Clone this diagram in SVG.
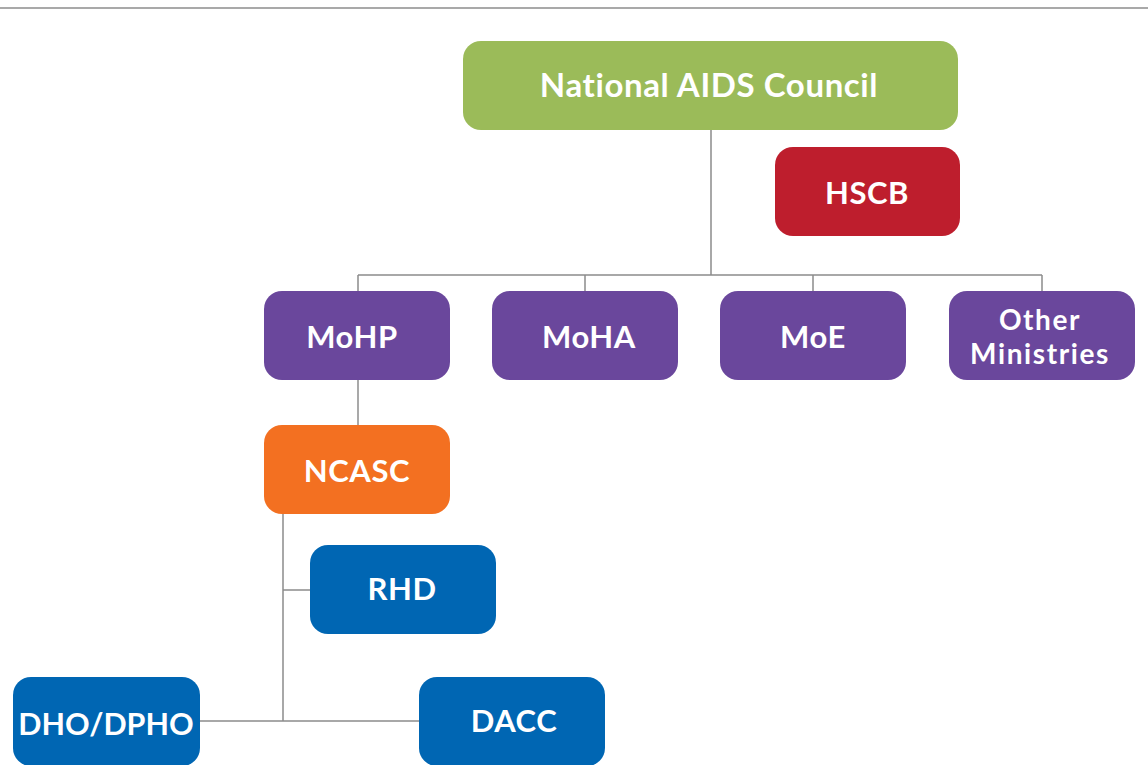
<svg xmlns="http://www.w3.org/2000/svg" width="1148" height="765" viewBox="0 0 1148 765">
<style>
.box{stroke:none}
.t{font-family:Lato,"Open Sans","Liberation Sans",sans-serif;font-weight:700;fill:#fff;text-anchor:middle;dominant-baseline:central;letter-spacing:0.6px}
.c{stroke:#8c8c8c;stroke-width:1.5;fill:none}
</style>
<rect x="0" y="0" width="1148" height="765" fill="#fff"/>
<line x1="0" y1="8" x2="1148" y2="8" stroke="#8c8c8c" stroke-width="1.5"/>
<g id="connectors">
<path class="c" d="M711 130V275M358 275H1042M358 275V291M585 275V291M813 275V291M1042 275V291"/>
<path class="c" d="M358 380V425"/>
<path class="c" d="M283 514V721M283 590H310M200 721H419"/>
</g>
<g id="nac"><rect class="box" x="463" y="41" width="495" height="89" rx="18" fill="#9bbb59"/><text class="t" x="709" y="84" font-size="33">National AIDS Council</text></g>
<g id="hscb"><rect class="box" x="775" y="147" width="185" height="89" rx="18" fill="#be1e2d"/><text class="t" x="867" y="192" font-size="31">HSCB</text></g>
<g id="mohp"><rect class="box" x="264" y="291" width="186" height="89" rx="18" fill="#6a479c"/><text class="t" x="352" y="336" font-size="31">MoHP</text></g>
<g id="moha"><rect class="box" x="492" y="291" width="186" height="89" rx="18" fill="#6a479c"/><text class="t" x="589" y="336" font-size="31">MoHA</text></g>
<g id="moe"><rect class="box" x="720" y="291" width="186" height="89" rx="18" fill="#6a479c"/><text class="t" x="813" y="336" font-size="31">MoE</text></g>
<g id="other"><rect class="box" x="949" y="291" width="186" height="89" rx="18" fill="#6a479c"/><text class="t" x="1040" y="319" font-size="28" style="letter-spacing:1.6px">Other</text><text class="t" x="1040" y="353" font-size="28" style="letter-spacing:1.6px">Ministries</text></g>
<g id="ncasc"><rect class="box" x="264" y="425" width="186" height="89" rx="18" fill="#f37021"/><text class="t" x="357" y="470" font-size="31">NCASC</text></g>
<g id="rhd"><rect class="box" x="310" y="545" width="186" height="89" rx="18" fill="#0066b3"/><text class="t" x="402" y="588" font-size="31">RHD</text></g>
<g id="dho"><rect class="box" x="13" y="677" width="187" height="89" rx="18" fill="#0066b3"/><text class="t" x="106" y="723" font-size="30.5" style="letter-spacing:0">DHO/DPHO</text></g>
<g id="dacc"><rect class="box" x="419" y="677" width="186" height="89" rx="18" fill="#0066b3"/><text class="t" x="514" y="720" font-size="31">DACC</text></g>
</svg>
